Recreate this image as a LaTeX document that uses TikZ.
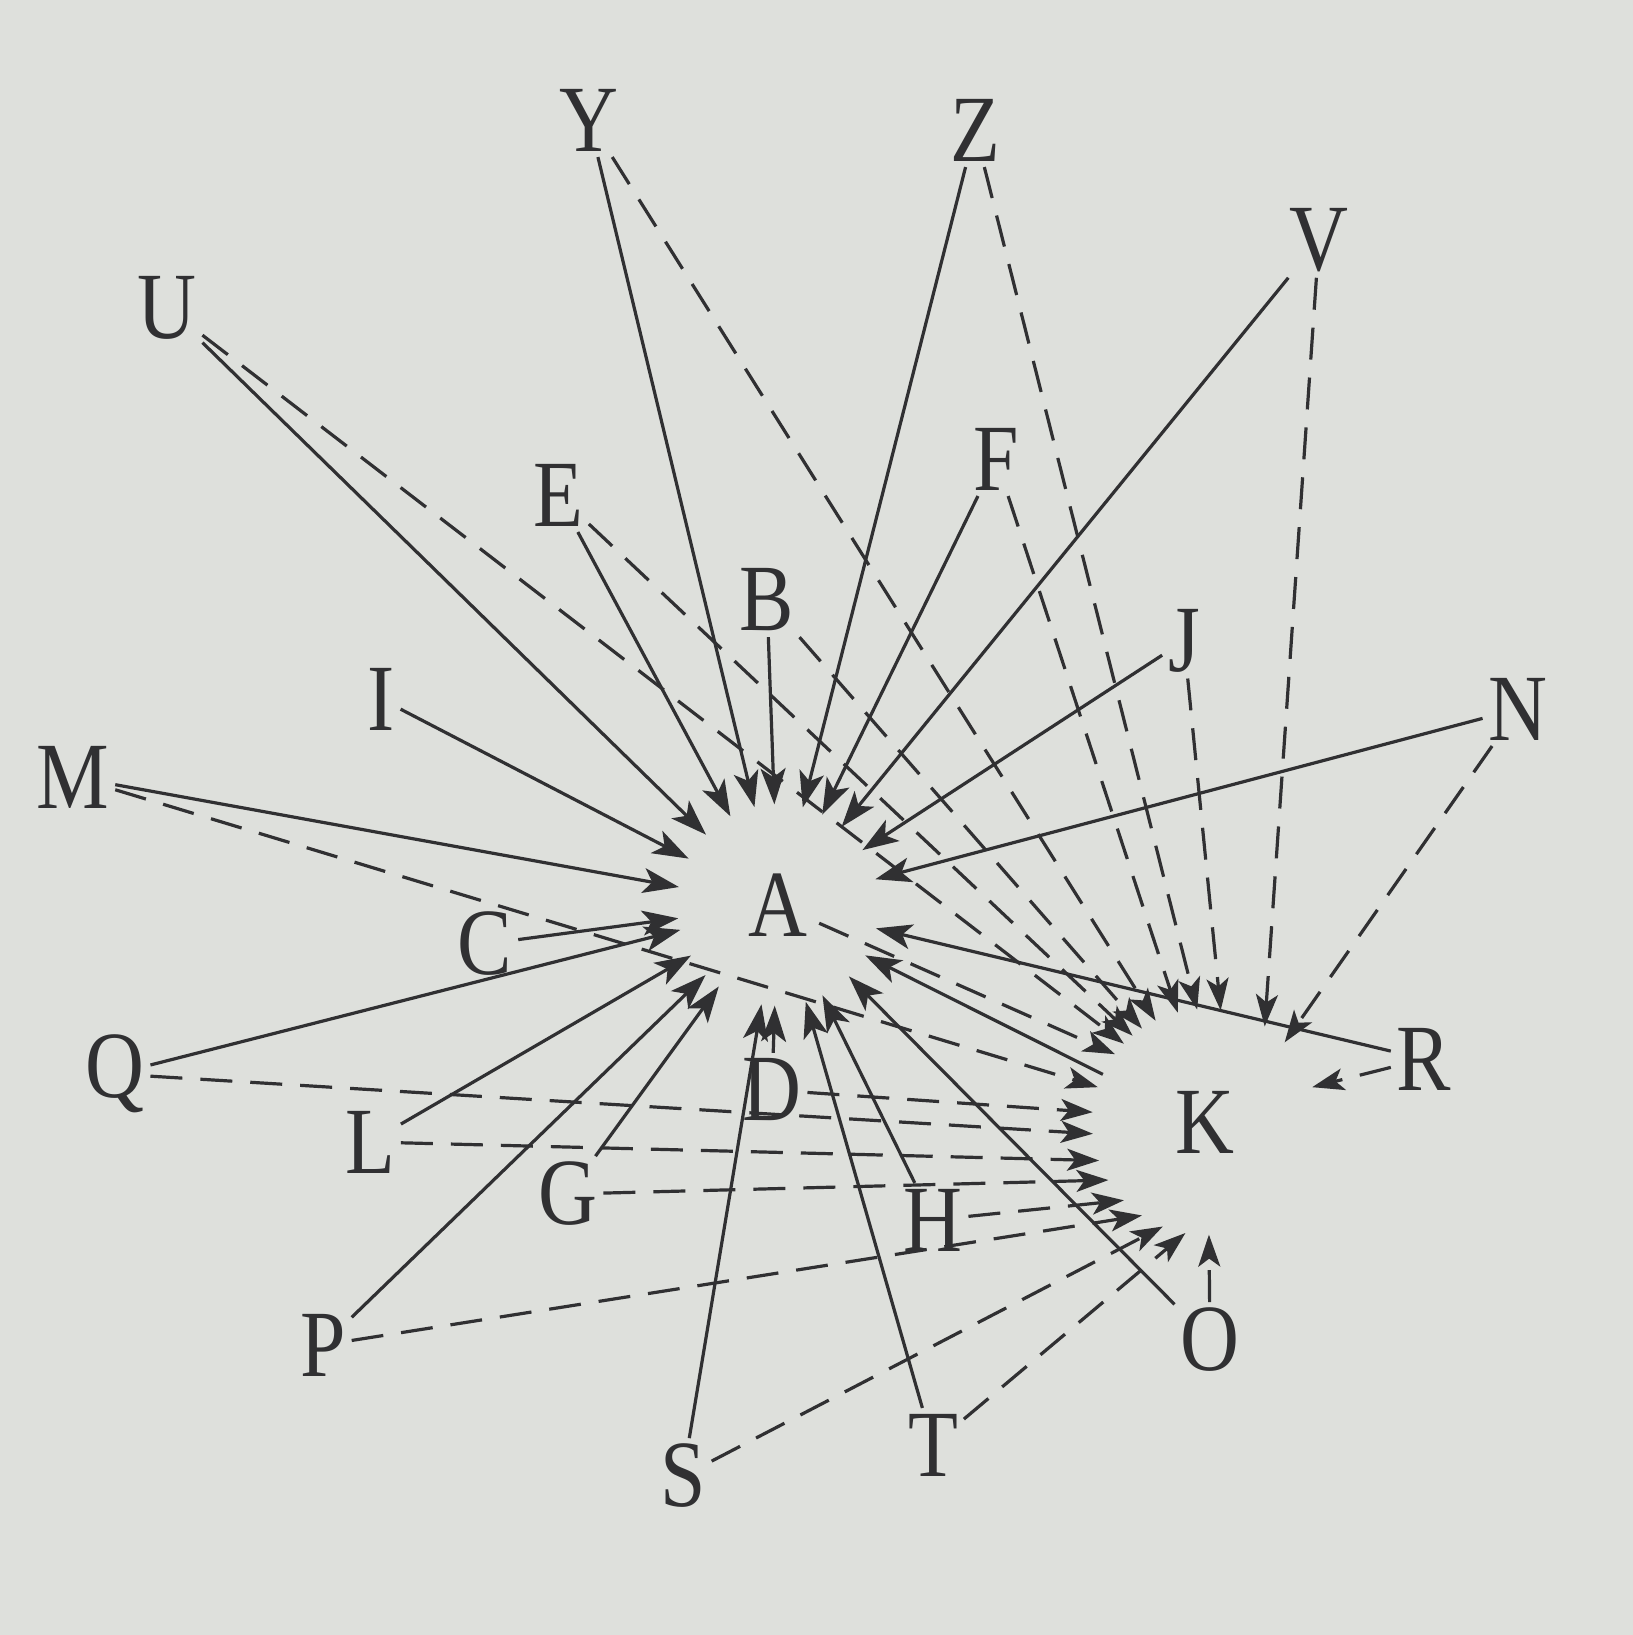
\documentclass[tikz,border=0pt]{standalone}
\usepackage{fontspec}
\setmainfont{Liberation Serif}[FakeStretch=0.86]
\usetikzlibrary{arrows.meta}
\definecolor{paper}{RGB}{222,224,220}
\definecolor{ink}{RGB}{48,48,50}

\begin{document}
\begin{tikzpicture}[x=0.1mm,y=-0.1mm,
    >={Stealth[length=3.6mm,width=2.5mm,inset=0.9mm]},
    letter/.style={inner sep=1.5pt,text=ink,font=\fontsize{27}{30}\selectfont},
    hubA/.style={letter,circle,minimum size=20mm,inner sep=0pt},
    hubK/.style={letter,circle,minimum size=22.4mm,inner sep=0pt},
    toA/.style={color=ink,line width=0.32mm,->},
    toK/.style={color=ink,line width=0.32mm,dash pattern=on 3.2mm off 1.8mm,
      -{Stealth[length=3.2mm,width=2.2mm,inset=0.8mm]}}]
  \fill[paper] (0,0) rectangle (1633,1635);
  \useasboundingbox (0,0) rectangle (1633,1635);

  % the two centres
  \node[hubA] (A) at (778,905) {A};
  \node[hubK] (K) at (1205,1122) {K};

  % the letters round them
  \node[letter] (Y) at (589,120) {Y};
  \node[letter] (Z) at (975,130) {Z};
  \node[letter] (V) at (1319,240) {V};
  \node[letter] (U) at (167,308) {U};
  \node[letter] (E) at (558,495) {E};
  \node[letter] (F) at (996,459) {F};
  \node[letter] (B) at (767,600) {B};
  \node[letter] (J) at (1184,641) {J};
  \node[letter] (N) at (1518,709) {N};
  \node[letter] (I) at (381,699) {I};
  \node[letter] (M) at (73,777) {M};
  \node[letter] (C) at (485,944) {C};
  \node[letter] (Q) at (115,1074) {Q};
  \node[letter] (R) at (1424,1059) {R};
  \node[letter] (D) at (772,1090) {D};
  \node[letter] (L) at (370,1142) {L};
  \node[letter] (G) at (568,1194) {G};
  \node[letter] (H) at (933,1220) {H};
  \node[letter] (P) at (323,1345) {P};
  \node[letter] (O) at (1210,1340) {O};
  \node[letter] (S) at (683,1476) {S};
  \node[letter] (T) at (933,1445) {T};

  % solid arrows into A
  \path[toA]
    (Y) edge (A)
    (Z) edge (A)
    (V) edge (A)
    (U) edge (A)
    (E) edge (A)
    (F) edge (A)
    (B) edge (A)
    (J) edge (A)
    (N) edge (A)
    (I) edge (A)
    (M) edge (A)
    (C) edge (A)
    (Q) edge (A)
    (L) edge (A)
    (G) edge (A)
    (P) edge (A)
    (S) edge (A)
    (T) edge (A)
    (D) edge (A)
    (H) edge (A)
    (O) edge (A)
    (R) edge (A)
    (K.155) edge (A.-30)
    ;

  % dashed arrows into K
  \path[toK]
    (R) edge (K.18)
    (N) edge (K.45)
    (V) edge (K.58)
    (J) edge (K.82)
    (Z) edge (K.94)
    (F) edge (K.104)
    (Y) edge (K.116)
    (B) edge (K.124)
    (E) edge (K.130)
    (U) edge (K.136)
    (A.center) edge [shorten <=4.5mm] (K.143)
    (M) edge (K.162)
    (D) edge (K.175)
    (Q) edge (K.186)
    (L) edge (K.200)
    (G) edge (K.211)
    (H) edge (K.224)
    (P) edge (K.236)
    (S) edge (K.248)
    (T) edge (K.260)
    (O) edge (K.272)
    ;
\end{tikzpicture}
\end{document}
